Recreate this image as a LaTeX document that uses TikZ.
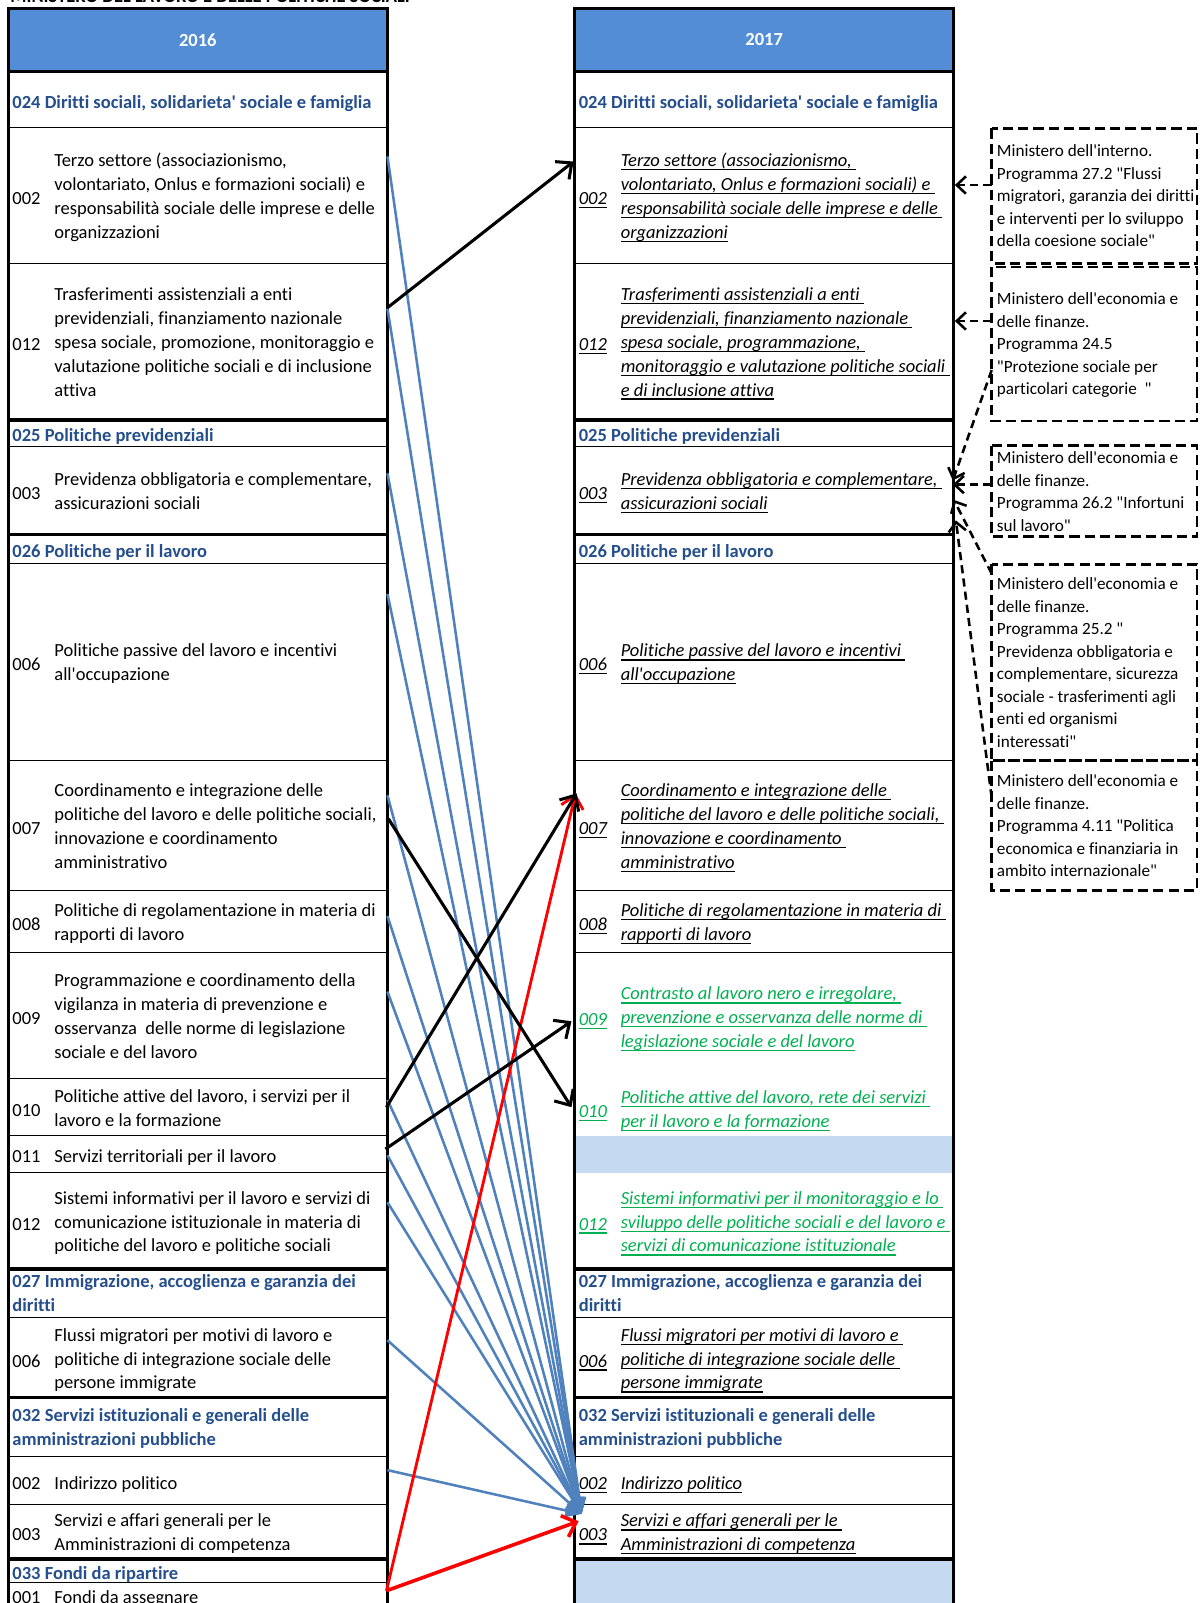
\documentclass[tikz,border=0pt]{standalone}
\usepackage{fontspec}
\setmainfont{Carlito}[Ligatures={TeXOff,CommonOff}]
\usetikzlibrary{arrows.meta}
\definecolor{hdrfill}{RGB}{83,141,213}
\definecolor{secblue}{RGB}{36,78,140}
\definecolor{bandfill}{RGB}{197,217,241}
\definecolor{newgreen}{RGB}{0,176,80}
\definecolor{linkblue}{RGB}{79,129,189}
\newcommand\myfs{\fontsize{18.1}{23.3}\selectfont}
\newcommand\boxfs{\fontsize{16.8}{22}\selectfont}
\newsavebox\myubox
\newcommand\myu[1]{\sbox\myubox{#1}\rlap{\vrule width\wd\myubox height -2.4pt depth 3.6pt}\usebox\myubox}
\tikzset{
  txt/.style={anchor=west, align=left, inner sep=0pt, font=\myfs, yshift=-3.5pt,
    execute at begin node=\strut, execute at end node=\strut},
  sec/.style={txt, font=\myfs\bfseries, text=secblue},
  newt/.style={txt, font=\myfs\itshape},
  grn/.style={newt, text=newgreen},
  boxt/.style={txt, font=\boxfs},
  hdr/.style={inner sep=0pt, font=\myfs\bfseries, text=white, yshift=-1pt},
  thinrule/.style={line width=1pt},
  thickrule/.style={line width=3.5pt},
  frame/.style={line width=3pt},
  dbox/.style={draw, line width=2.5pt, dash pattern=on 10pt off 5pt},
  bluelink/.style={linkblue, line width=2.5pt, -{Triangle[length=16pt,width=13pt]}},
  blackarr/.style={black, line width=3pt, -{Straight Barb[length=12pt,width=22pt]}},
  redarr/.style={red, line width=2.8pt, -{Straight Barb[length=12pt,width=22pt]}},
  dasharr/.style={black, line width=2.5pt, dash pattern=on 8pt off 5pt, -{Straight Barb[length=9pt,width=17pt]}},
}
\begin{document}
\begin{tikzpicture}[x=1pt,y=-1pt]
\useasboundingbox (0,0) rectangle (1174,1568);
% title (cut off at top)
\node[anchor=base west, inner sep=0pt, font=\myfs\bfseries] (title) at (10,2.5) {MINISTERO DEL LAVORO E DELLE POLITICHE SOCIALI};

% fills
\fill[bandfill] (562,1111) rectangle (933,1147);
\fill[bandfill] (562,1525) rectangle (933,1575);
\draw[frame, fill=hdrfill] (8,8) rectangle (379,70);
\draw[frame, fill=hdrfill] (562,8) rectangle (933,70);

% outer vertical borders
\draw[frame] (8,8) -- (8,1575);
\draw[frame] (379,8) -- (379,1575);
\draw[frame] (562,8) -- (562,1575);
\draw[frame] (933,8) -- (933,1575);

% row rules, both tables
\foreach \y in {125,258,437,551,744,871,932,1289,1425,1472}{
  \draw[thinrule] (8,\y) -- (379,\y);
  \draw[thinrule] (562,\y) -- (933,\y);
}
\foreach \y in {411,523,1241,1367,1525}{
  \draw[thickrule] (8,\y) -- (379,\y);
  \draw[thickrule] (562,\y) -- (933,\y);
}
\foreach \y in {1055,1111,1147,1548}{
  \draw[thinrule] (8,\y) -- (379,\y);
}

% ---------------- left table (2016)
\node[hdr] (Lh) at (193.5,38) {2016};
\node[sec] (L024) at (12,97.5) {024 Diritti sociali, solidarieta' sociale e famiglia};
\node[txt] (L002c) at (12,191.5) {002};
\node[txt] (L002t) at (53,191.5) {Terzo settore (associazionismo,\\volontariato, Onlus e formazioni sociali) e\\responsabilità sociale delle imprese e delle\\organizzazioni};
\node[txt] (L012c) at (12,334.5) {012};
\node[txt] (L012t) at (53,334.5) {Trasferimenti assistenziali a enti\\previdenziali, finanziamento nazionale\\spesa sociale, promozione, monitoraggio e\\valutazione politiche sociali e di inclusione\\attiva};
\node[sec] (L025) at (12,424) {025 Politiche previdenziali};
\node[txt] (L003c) at (12,480) {003};
\node[txt] (L003t) at (53,480) {Previdenza obbligatoria e complementare,\\assicurazioni sociali};
\node[sec] (L026) at (12,537) {026 Politiche per il lavoro};
\node[txt] (L006c) at (12,648) {006};
\node[txt] (L006t) at (53,648) {Politiche passive del lavoro e incentivi\\all'occupazione};
\node[txt] (L007c) at (12,808) {007};
\node[txt] (L007t) at (53,808) {Coordinamento e integrazione delle\\politiche del lavoro e delle politiche sociali,\\innovazione e coordinamento\\amministrativo};
\node[txt] (L008c) at (12,902) {008};
\node[txt] (L008t) at (53,902) {Politiche di regolamentazione in materia di\\rapporti di lavoro};
\node[txt] (L009c) at (12,994) {009};
\node[txt] (L009t) at (53,994) {Programmazione e coordinamento della\\vigilanza in materia di prevenzione e\\osservanza \ delle norme di legislazione\\sociale e del lavoro};
\node[txt] (L010c) at (12,1084) {010};
\node[txt] (L010t) at (53,1084) {Politiche attive del lavoro, i servizi per il\\lavoro e la formazione};
\node[txt] (L011c) at (12,1129) {011};
\node[txt] (L011t) at (53,1129) {Servizi territoriali per il lavoro};
\node[txt] (L012bc) at (12,1195) {012};
\node[txt] (L012bt) at (53,1195) {Sistemi informativi per il lavoro e servizi di\\comunicazione istituzionale in materia di\\politiche del lavoro e politiche sociali};
\node[sec] (L027) at (12,1265) {027 Immigrazione, accoglienza e garanzia dei\\diritti};
\node[txt] (L006bc) at (12,1329) {006};
\node[txt] (L006bt) at (53,1329) {Flussi migratori per motivi di lavoro e\\politiche di integrazione sociale delle\\persone immigrate};
\node[sec] (L032) at (12,1396) {032 Servizi istituzionali e generali delle\\amministrazioni pubbliche};
\node[txt] (L002bc) at (12,1449) {002};
\node[txt] (L002bt) at (53,1449) {Indirizzo politico};
\node[txt] (L003bc) at (12,1499) {003};
\node[txt] (L003bt) at (53,1499) {Servizi e affari generali per le\\Amministrazioni di competenza};
\node[sec] (L033) at (12,1537) {033 Fondi da ripartire};
\node[txt] (L001c) at (12,1560) {001};
\node[txt] (L001t) at (53,1560) {Fondi da assegnare};

% ---------------- right table (2017)
\node[hdr] (Rh) at (747.5,38) {2017};
\node[sec] (R024) at (566,97.5) {024 Diritti sociali, solidarieta' sociale e famiglia};
\node[newt] (R002c) at (566,191.5) {\myu{002}};
\node[newt] (R002t) at (607,191.5) {\myu{Terzo settore (associazionismo,\ }\\\myu{volontariato, Onlus e formazioni sociali) e\ }\\\myu{responsabilità sociale delle imprese e delle\ }\\\myu{organizzazioni}};
\node[newt] (R012c) at (566,334.5) {\myu{012}};
\node[newt] (R012t) at (607,334.5) {\myu{Trasferimenti assistenziali a enti\ }\\\myu{previdenziali, finanziamento nazionale\ }\\\myu{spesa sociale, programmazione,\ }\\\myu{monitoraggio e valutazione politiche sociali\ }\\\myu{e di inclusione attiva}};
\node[sec] (R025) at (566,424) {025 Politiche previdenziali};
\node[newt] (R003c) at (566,480) {\myu{003}};
\node[newt] (R003t) at (607,480) {\myu{Previdenza obbligatoria e complementare,\ }\\\myu{assicurazioni sociali}};
\node[sec] (R026) at (566,537) {026 Politiche per il lavoro};
\node[newt] (R006c) at (566,648) {\myu{006}};
\node[newt] (R006t) at (607,648) {\myu{Politiche passive del lavoro e incentivi\ }\\\myu{all'occupazione}};
\node[newt] (R007c) at (566,808) {\myu{007}};
\node[newt] (R007t) at (607,808) {\myu{Coordinamento e integrazione delle\ }\\\myu{politiche del lavoro e delle politiche sociali,\ }\\\myu{innovazione e coordinamento\ }\\\myu{amministrativo}};
\node[newt] (R008c) at (566,902) {\myu{008}};
\node[newt] (R008t) at (607,902) {\myu{Politiche di regolamentazione in materia di\ }\\\myu{rapporti di lavoro}};
\node[grn] (R009c) at (566,995) {\myu{009}};
\node[grn] (R009t) at (607,995) {\myu{Contrasto al lavoro nero e irregolare,\ }\\\myu{prevenzione e osservanza delle norme di\ }\\\myu{legislazione sociale e del lavoro}};
\node[grn] (R010c) at (566,1085) {\myu{010}};
\node[grn] (R010t) at (607,1085) {\myu{Politiche attive del lavoro, rete dei servizi\ }\\\myu{per il lavoro e la formazione}};
\node[grn] (R012bc) at (566,1195) {\myu{012}};
\node[grn] (R012bt) at (607,1195) {\myu{Sistemi informativi per il monitoraggio e lo\ }\\\myu{sviluppo delle politiche sociali e del lavoro e\ }\\\myu{servizi di comunicazione istituzionale}};
\node[sec] (R027) at (566,1265) {027 Immigrazione, accoglienza e garanzia dei\\diritti};
\node[newt] (R006bc) at (566,1329) {\myu{006}};
\node[newt] (R006bt) at (607,1329) {\myu{Flussi migratori per motivi di lavoro e\ }\\\myu{politiche di integrazione sociale delle\ }\\\myu{persone immigrate}};
\node[sec] (R032) at (566,1396) {032 Servizi istituzionali e generali delle\\amministrazioni pubbliche};
\node[newt] (R002bc) at (566,1449) {\myu{002}};
\node[newt] (R002bt) at (607,1449) {\myu{Indirizzo politico}};
\node[newt] (R003bc) at (566,1499) {\myu{003}};
\node[newt] (R003bt) at (607,1499) {\myu{Servizi e affari generali per le\ }\\\myu{Amministrazioni di competenza}};

% ---------------- dashed boxes (other ministries)
\draw[dbox] (970,125.6) rectangle (1171,257.5);
\draw[dbox] (970,261) rectangle (1171,412);
\draw[dbox] (970,436) rectangle (1171,525);
\draw[dbox] (970,552) rectangle (1171,744);
\draw[dbox] (970,744) rectangle (1171,871);
\node[boxt] (M1) at (975,191.5) {Ministero dell'interno.\\Programma 27.2 "Flussi\\migratori, garanzia dei diritti\\e interventi per lo sviluppo\\della coesione sociale"};
\node[boxt] (M2) at (975,336) {Ministero dell'economia e\\delle finanze.\\Programma 24.5\\"Protezione sociale per\\particolari categorie \ "};
\node[boxt] (M3) at (975,480.5) {Ministero dell'economia e\\delle finanze.\\Programma 26.2 "Infortuni\\sul lavoro"};
\node[boxt] (M4) at (975,648) {Ministero dell'economia e\\delle finanze.\\Programma 25.2 "\\Previdenza obbligatoria e\\complementare, sicurezza\\sociale - trasferimenti agli\\enti ed organismi\\interessati"};
\node[boxt] (M5) at (975,807.5) {Ministero dell'economia e\\delle finanze.\\Programma 4.11 "Politica\\economica e finanziaria in\\ambito internazionale"};

% ---------------- connector end points
\coordinate (s002) at (379,153);
\coordinate (s012) at (379,302);
\coordinate (s003) at (379,463);
\coordinate (s006) at (379,581);
\coordinate (s007) at (379,778);
\coordinate (s008) at (379,896);
\coordinate (s009) at (379,970);
\coordinate (s010) at (379,1076);
\coordinate (s011) at (379,1130);
\coordinate (s012b) at (379,1176);
\coordinate (s006b) at (379,1311);
\coordinate (s002b) at (379,1438);
\coordinate (hub) at (569,1481);

\coordinate (k1s) at (379,301);  \coordinate (k1e) at (561,158);
\coordinate (k2s) at (380,801);  \coordinate (k2e) at (559,1083);
\coordinate (k3s) at (378,1083); \coordinate (k3e) at (564,776);
\coordinate (k4s) at (377,1124); \coordinate (k4e) at (559,999);
\coordinate (rs) at (378,1556);
\coordinate (r1e) at (563,776);
\coordinate (r2e) at (566,1488);

\coordinate (d1s) at (970,181); \coordinate (d1e) at (934,181);
\coordinate (d2s) at (970,314); \coordinate (d2e) at (934,314);
\coordinate (d3s) at (970,362); \coordinate (d3e) at (932,470);
\coordinate (d4s) at (970,474); \coordinate (d4e) at (932,474);
\coordinate (d5s) at (970,561); \coordinate (d5e) at (933,489);
\coordinate (d6s) at (970,780); \coordinate (d6e) at (935,509);

% blue links
\foreach \s in {s002,s012,s003,s006,s007,s008,s009,s010,s011,s012b,s006b,s002b}{
  \draw[bluelink] (\s) -- (hub);
}
% red links
\draw[redarr] (rs) -- (r1e);
\draw[redarr, line width=3.5pt] (rs) -- (r2e);
% black links
\draw[blackarr] (k1s) -- (k1e);
\draw[blackarr] (k2s) -- (k2e);
\draw[blackarr] (k3s) -- (k3e);
\draw[blackarr] (k4s) -- (k4e);
% dashed links
\draw[dasharr] (d1s) -- (d1e);
\draw[dasharr] (d2s) -- (d2e);
\draw[dasharr] (d3s) -- (d3e);
\draw[dasharr] (d4s) -- (d4e);
\draw[dasharr] (d5s) -- (d5e);
\draw[dasharr] (d6s) -- (d6e);
\end{tikzpicture}
\end{document}
